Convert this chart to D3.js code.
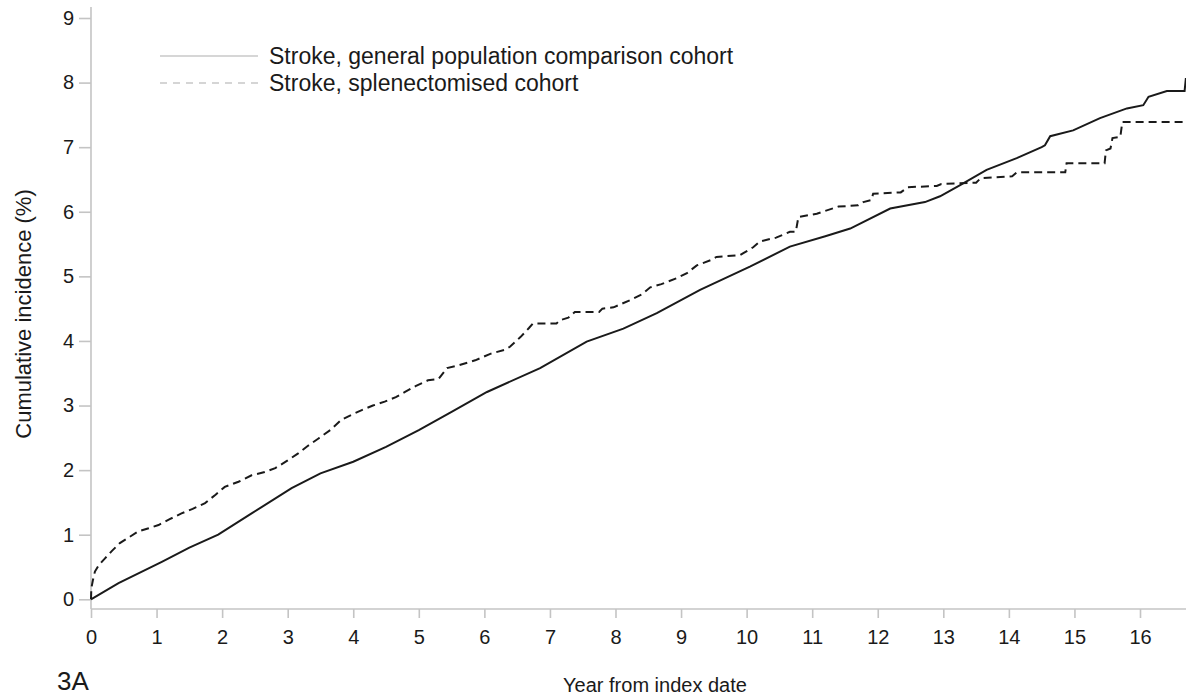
<!DOCTYPE html>
<html>
<head>
<meta charset="utf-8">
<script src="https://cdn.jsdelivr.net/npm/d3@7"></script>
<style>
  html, body { margin: 0; padding: 0; background: #fff; }
  svg { display: block; }
  text { font-family: "Liberation Sans", Arial, sans-serif; fill: #1a1a1a; }
</style>
</head>
<body>
<svg id="chart" width="1186" height="699"></svg>
<script>
// ---- data ----
const xTicks = [0,1,2,3,4,5,6,7,8,9,10,11,12,13,14,15,16];
const yTicks = [0,1,2,3,4,5,6,7,8,9];
const seriesNames = ["Stroke, general population comparison cohort", "Stroke, splenectomised cohort"];
const generalYears = [0,0.42,1.08,1.5,1.94,2.45,3.06,3.5,4.0,4.5,5.0,5.5,6.04,6.85,7.56,8.12,8.63,9.29,10.05,10.66,11.2,11.58,12.19,12.72,12.95,13.25,13.66,14.12,14.5,14.55,14.63,14.98,15.39,15.8,16.05,16.13,16.41,16.68,16.7];
const generalValues = [0,0.25,0.58,0.8,1.0,1.33,1.72,1.95,2.13,2.36,2.62,2.9,3.21,3.58,3.99,4.19,4.43,4.79,5.15,5.46,5.62,5.74,6.05,6.15,6.24,6.41,6.65,6.83,7.0,7.03,7.17,7.26,7.45,7.6,7.65,7.78,7.87,7.87,8.07];
const splenYears = [0,0.005,0.03,0.06,0.12,0.21,0.32,0.44,0.58,0.72,0.88,1.03,1.2,1.38,1.55,1.74,1.9,2.04,2.25,2.45,2.65,2.81,3.0,3.16,3.3,3.47,3.65,3.82,3.98,4.13,4.3,4.48,4.65,4.79,4.95,5.14,5.3,5.43,5.6,5.86,6.09,6.3,6.39,6.55,6.68,6.74,7.1,7.15,7.28,7.38,7.75,7.8,7.97,8.22,8.4,8.53,8.7,8.93,9.09,9.24,9.45,9.54,9.9,9.95,10.1,10.2,10.45,10.66,10.75,10.79,11.07,11.4,11.7,11.78,11.9,11.93,12.35,12.46,12.9,12.97,13.5,13.57,14.05,14.12,14.86,14.88,15.46,15.48,15.55,15.58,15.7,15.73,16.7];
const splenValues = [0,0.17,0.3,0.43,0.53,0.63,0.75,0.87,0.96,1.05,1.1,1.15,1.24,1.33,1.4,1.49,1.62,1.74,1.82,1.92,1.97,2.03,2.15,2.26,2.37,2.49,2.62,2.78,2.86,2.93,3.0,3.06,3.13,3.21,3.3,3.39,3.41,3.58,3.62,3.7,3.8,3.86,3.91,4.06,4.2,4.27,4.27,4.32,4.36,4.45,4.45,4.5,4.52,4.63,4.72,4.83,4.88,4.97,5.05,5.17,5.25,5.3,5.33,5.36,5.45,5.54,5.6,5.69,5.69,5.92,5.97,6.08,6.1,6.15,6.18,6.28,6.3,6.38,6.4,6.43,6.45,6.52,6.55,6.61,6.61,6.75,6.75,6.95,6.98,7.14,7.16,7.39,7.39];

// ---- layout ----
const svg = d3.select("#chart");
const axisColor = "#c4c4c4";
const x = d3.scaleLinear().domain([0, 16]).range([91, 1140]);
const y = d3.scaleLinear().domain([0, 9]).range([599.3, 18]);
const xAxisY = 609;

// axes lines
svg.append("line").attr("x1", x(0)).attr("x2", 1186).attr("y1", xAxisY).attr("y2", xAxisY)
  .attr("stroke", axisColor).attr("stroke-width", 1.6);
svg.append("line").attr("x1", x(0)).attr("x2", x(0)).attr("y1", 7).attr("y2", xAxisY)
  .attr("stroke", axisColor).attr("stroke-width", 1.6);

// x axis
const gx = svg.append("g").attr("transform", `translate(0,${xAxisY})`)
  .call(d3.axisBottom(x).tickValues(xTicks).tickSize(9).tickPadding(12).tickFormat(d3.format("d")));
gx.select(".domain").remove();
gx.selectAll(".tick line").attr("stroke", axisColor).attr("stroke-width", 1.6);
gx.selectAll(".tick text").attr("font-size", 20).attr("fill", "#1a1a1a")
  .attr("font-family", "'Liberation Sans', Arial, sans-serif");

// y axis
const gy = svg.append("g").attr("transform", `translate(${x(0)},0)`)
  .call(d3.axisLeft(y).tickValues(yTicks).tickSize(12).tickPadding(5).tickFormat(d3.format("d")));
gy.select(".domain").remove();
gy.selectAll(".tick line").attr("stroke", axisColor).attr("stroke-width", 1.6);
gy.selectAll(".tick text").attr("font-size", 20).attr("fill", "#1a1a1a")
  .attr("font-family", "'Liberation Sans', Arial, sans-serif");

// curves
const general = generalYears.map((t, i) => [t, generalValues[i]]);
const splen = splenYears.map((t, i) => [t, splenValues[i]]);
const lineLin = d3.line().x(d => x(d[0])).y(d => y(d[1])).curve(d3.curveLinear);

svg.append("path").attr("d", lineLin(splen)).attr("fill", "none")
  .attr("stroke", "#1a1a1a").attr("stroke-width", 2).attr("stroke-dasharray", "8,5");
svg.append("path").attr("d", lineLin(general)).attr("fill", "none")
  .attr("stroke", "#1a1a1a").attr("stroke-width", 2);

// legend
const leg = svg.append("g");
const legRows = [{y: 56, dash: null}, {y: 83, dash: "7,6"}];
legRows.forEach((r, i) => {
  leg.append("line").attr("x1", 160).attr("x2", 258).attr("y1", r.y).attr("y2", r.y)
    .attr("stroke", "#c8c8c8").attr("stroke-width", 1.6)
    .attr("stroke-dasharray", r.dash);
  leg.append("text").attr("x", 269).attr("y", r.y + 8).attr("font-size", 23)
    .text(seriesNames[i]);
});

// axis titles
svg.append("text").attr("x", 655).attr("y", 692).attr("text-anchor", "middle")
  .attr("font-size", 20).text("Year from index date");
svg.append("text").attr("transform", "translate(31,314) rotate(-90)")
  .attr("text-anchor", "middle").attr("font-size", 22).text("Cumulative incidence (%)");

// panel label
svg.append("text").attr("x", 57).attr("y", 690).attr("font-size", 26)
  .attr("font-family", "'Open Sans', sans-serif").text("3A");
</script>
</body>
</html>
